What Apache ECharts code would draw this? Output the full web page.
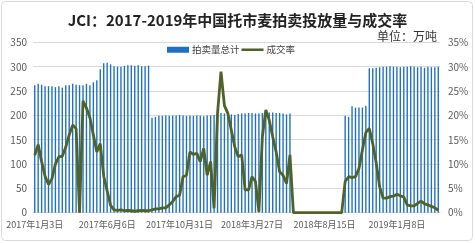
<!DOCTYPE html>
<html>
<head>
<meta charset="utf-8">
<script src="https://cdn.jsdelivr.net/npm/echarts@6/dist/echarts.min.js"></script>
<style>
  html, body { margin: 0; padding: 0; background: #fff; }
  #chart { width: 475px; height: 243px; }
</style>
</head>
<body>
<div id="chart"></div>
<script>
// weekly auction dates (category axis)
const dates = [
  "2017年1月3日", "2017年1月10日", "2017年1月17日", "2017年1月24日", "2017年2月7日", "2017年2月14日",
  "2017年2月21日", "2017年2月28日", "2017年3月7日", "2017年3月14日", "2017年3月21日", "2017年3月28日",
  "2017年4月4日", "2017年4月11日", "2017年4月18日", "2017年4月25日", "2017年5月2日", "2017年5月9日",
  "2017年5月16日", "2017年5月23日", "2017年5月30日", "2017年6月6日", "2017年6月13日", "2017年6月20日",
  "2017年6月27日", "2017年7月4日", "2017年7月11日", "2017年7月18日", "2017年7月25日", "2017年8月1日",
  "2017年8月8日", "2017年8月15日", "2017年8月22日", "2017年8月29日", "2017年9月5日", "2017年9月12日",
  "2017年9月19日", "2017年9月26日", "2017年10月3日", "2017年10月10日", "2017年10月17日", "2017年10月24日",
  "2017年10月31日", "2017年11月7日", "2017年11月14日", "2017年11月21日", "2017年11月28日", "2017年12月5日",
  "2017年12月12日", "2017年12月19日", "2017年12月26日", "2018年1月2日", "2018年1月9日", "2018年1月16日",
  "2018年1月23日", "2018年1月30日", "2018年2月6日", "2018年2月13日", "2018年2月20日", "2018年2月27日",
  "2018年3月6日", "2018年3月13日", "2018年3月20日", "2018年3月27日", "2018年4月3日", "2018年4月10日",
  "2018年4月17日", "2018年4月24日", "2018年5月1日", "2018年5月8日", "2018年5月15日", "2018年5月22日",
  "2018年5月29日", "2018年6月5日", "2018年6月12日", "2018年6月19日", "2018年6月26日", "2018年7月3日",
  "2018年7月10日", "2018年7月17日", "2018年7月24日", "2018年7月31日", "2018年8月7日", "2018年8月8日",
  "2018年8月15日", "2018年8月22日", "2018年8月29日", "2018年9月5日", "2018年9月12日", "2018年9月19日",
  "2018年9月26日", "2018年10月10日", "2018年10月17日", "2018年10月24日", "2018年10月31日", "2018年11月7日",
  "2018年11月14日", "2018年11月21日", "2018年11月28日", "2018年12月4日", "2018年12月11日", "2018年12月18日",
  "2018年12月25日", "2018年12月26日", "2019年1月2日", "2019年1月8日", "2019年1月15日", "2019年1月22日",
  "2019年1月29日", "2019年2月12日", "2019年2月19日", "2019年2月26日", "2019年3月5日", "2019年3月12日",
  "2019年3月19日", "2019年3月26日", "2019年4月2日", "2019年4月9日"
];

// 拍卖量总计 (万吨), null = no auction that week
const auctionVolume = [
  262, 265, 263, 260, 260, 260, 258, 260, 257, 262, 262, 265, 263, 262, 262, 265, 262, 268, 272, 295,
  307, 308, 305, 301, 300, 300, 302, 303, 303, 302, 303, 301, 301, 302, 195, 197, 199, 199, 200, 199,
  200, 200, 201, 200, 199, 200, 199, 200, 199, 198, 200, 200, 201, 203, 205, 204, 203, 202, 201, 203,
  204, 204, 205, 205, 204, 204, 205, 206, 206, 206, 205, 205, 204, 202, 204, null, null, null, null, null,
  null, null, null, null, null, null, null, null, null, null, 199, 197, 219, 216, 216, 216, 220, 297, 297, 298,
  299, 300, 300, 301, 300, 300, 299, 300, 300, 301, 300, 299, 300, 298, 300, 299, 299, 300
];

// 成交率 (%)
const dealRate = [
  11.8, 14.0, 10.5, 7.5, 5.8, 7.0, 10.0, 11.5, 11.6, 13.5, 16.0, 18.0, 17.3, 0, 23.0, 21.5, 19.5, 16.0, 12.5, 14.2,
  7.5, 4.5, 1.5, 0.6, 0.5, 0.6, 0.4, 0.5, 0.4, 0.3, 0.4, 0.5, 0.4, 0.4, 0.6, 0.8, 0.8, 1.0, 1.0, 1.6,
  2.3, 3.3, 3.6, 7.4, 7.7, 12.5, 12.0, 12.2, 10.5, 13.2, 7.7, 10.5, 0.9, 20.4, 29.0, 22.0, 20.4, 17.0, 13.5, 11.5,
  11.9, 4.7, 4.7, 7.4, 6.4, 0.2, 15.6, 21.1, 19.0, 15.6, 12.5, 8.4, 7.7, 6.0, 11.9, 0, 0, 0, 0, 0,
  0, 0, 0, 0, 0, 0, 0, 0, 0, 0, 6.4, 7.4, 7.2, 7.4, 9.1, 12.9, 16.5, 17.3, 14.2, 10.3,
  5.3, 3.0, 3.0, 3.3, 3.4, 3.8, 3.5, 3.2, 1.6, 1.4, 1.4, 1.9, 2.4, 1.8, 1.6, 1.3, 1.0, 0.5
];

const font = '"Noto Sans CJK SC", "Noto Sans", sans-serif';
const chart = echarts.init(document.getElementById("chart"));

chart.setOption({
  animation: false,
  textStyle: { fontFamily: font },
  graphic: [
    {
      type: "rect",
      shape: { x: 1.5, y: 1.5, width: 471, height: 239, r: 4 },
      style: { fill: "none", stroke: "#d9d9d9", lineWidth: 1 },
      silent: true,
    },
  ],
  title: [
    {
      text: "JCI：2017-2019年中国托市麦拍卖投放量与成交率",
      left: "center",
      top: 8,
      textStyle: { fontSize: 15, fontWeight: "bold", color: "#222", fontFamily: font },
    },
    {
      text: "单位：万吨",
      right: 33,
      top: 25,
      textStyle: { fontSize: 12, fontWeight: "normal", color: "#333", fontFamily: font },
    },
  ],
  legend: {
    left: 167,
    top: 45,
    padding: 0,
    itemWidth: 22,
    itemHeight: 6,
    itemGap: 2,
    textStyle: { fontSize: 9.5, color: "#404040", padding: [0, 0, 0, -2] },
    data: [
      { name: "拍卖量总计", icon: "rect" },
      { name: "成交率", icon: "path://M0,0h26v3h-26z" },
    ],
  },
  grid: { left: 33, right: 35, top: 42.4, bottom: 30.3 },
  xAxis: {
    type: "category",
    data: dates,
    axisTick: { show: false },
    axisLine: { lineStyle: { color: "#d9d9d9" } },
    axisLabel: { interval: 20, fontSize: 9, color: "#595959", margin: 7 },
  },
  yAxis: [
    {
      type: "value",
      min: 0,
      max: 350,
      interval: 50,
      axisLabel: { fontSize: 10, color: "#595959", margin: 6 },
      splitLine: { lineStyle: { color: "#d9d9d9" } },
    },
    {
      type: "value",
      min: 0,
      max: 35,
      interval: 5,
      axisLabel: { fontSize: 10, color: "#595959", margin: 8, formatter: "{value}%" },
      splitLine: { show: false },
    },
  ],
  series: [
    {
      name: "拍卖量总计",
      type: "bar",
      data: auctionVolume,
      barWidth: "40%",
      itemStyle: { color: "#1f70c1" },
    },
    {
      name: "成交率",
      type: "line",
      yAxisIndex: 1,
      data: dealRate,
      symbol: "none",
      lineStyle: { width: 2.8, color: "#4f6228" },
      itemStyle: { color: "#4f6228" },
    },
  ],
});
</script>
</body>
</html>
